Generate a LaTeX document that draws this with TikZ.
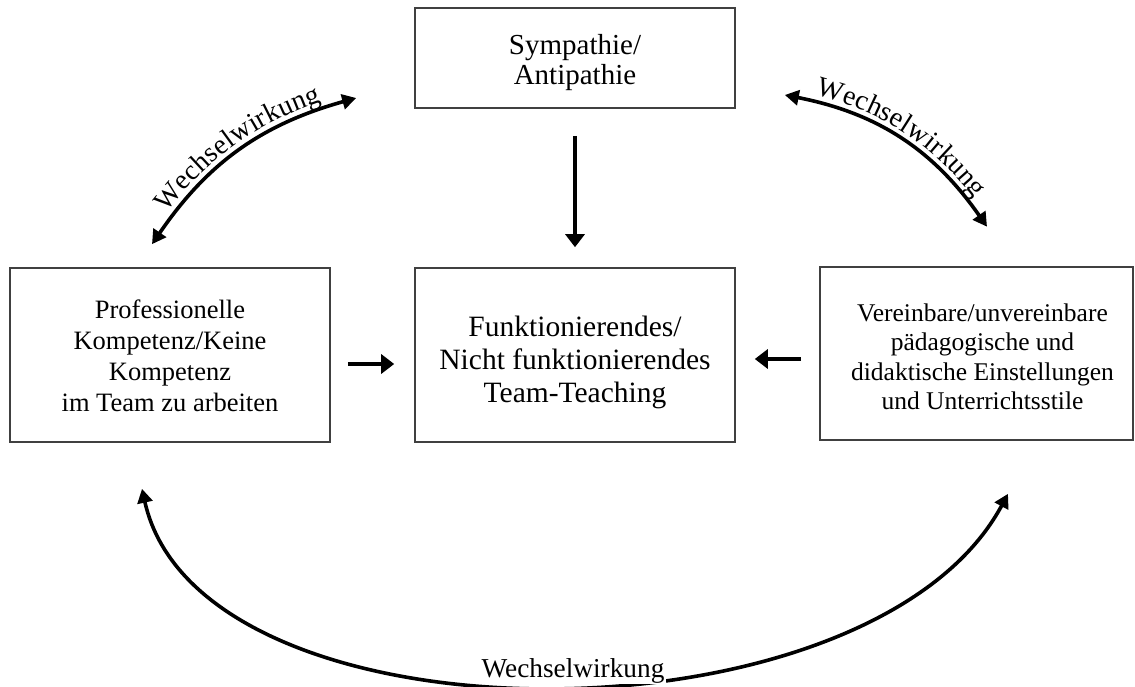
\documentclass[tikz,border=0pt]{standalone}
\usepackage{fontspec}
\setmainfont{Liberation Serif}
\usetikzlibrary{arrows.meta,calc,decorations.text}

\newcommand\topfont{\fontsize{29pt}{30pt}\selectfont}
\newcommand\leftfont{\fontsize{26.5pt}{31pt}\selectfont}
\newcommand\midfont{\fontsize{29.5pt}{33pt}\selectfont}
\newcommand\rightfont{\fontsize{25.5pt}{29.5pt}\selectfont}
\newcommand\arcfont{\fontsize{28pt}{30pt}\selectfont}

\begin{document}
\begin{tikzpicture}[x=1pt,y=-1pt,
  box/.style={draw=black!75, line width=1.6pt, rectangle, inner sep=0pt},
  boxtext/.style={align=center, inner sep=0pt},
  straight/.style={line width=3.6pt, -{Triangle[length=13pt,width=19pt]}},
  curved/.style={line width=3.6pt, {Triangle[length=14pt,width=15pt]}-{Triangle[length=14pt,width=15pt]}},
  arclabel/.style={decorate, decoration={text along path, text={|\arcfont|Wechselwirkung}, text align=center, raise=7pt}}
]
\useasboundingbox[fill=white] (0,0) rectangle (1135,687);

% the four boxes
\node[box, minimum width=320pt, minimum height=100pt] (top) at (575,58) {};
\node[box, minimum width=320pt, minimum height=174pt] (left) at (170,355) {};
\node[box, minimum width=320pt, minimum height=174pt] (mid) at (575,355) {};
\node[box, minimum width=313pt, minimum height=173pt] (right) at (976.5,353.5) {};

% box texts
\node[boxtext, font=\topfont] (toptext) at ([yshift=-5pt]top.center) {Sympathie/\\Antipathie};
\node[boxtext, font=\leftfont] (lefttext) at ([yshift=-1pt]left.center) {Professionelle\\Kompetenz/Keine\\Kompetenz\\im Team zu arbeiten};
\node[boxtext, font=\midfont] (midtext) at ([yshift=-7pt]mid.center) {Funktionierendes/\\Nicht funktionierendes\\Team-Teaching};
\node[boxtext, font=\rightfont] (righttext) at ([xshift=6pt,yshift=-3.5pt]right.center) {Vereinbare/unvereinbare\\pädagogische und\\didaktische Einstellungen\\und Unterrichtsstile};

% straight arrows into the centre box
\draw[straight, shorten <=27pt, shorten >=20pt] (top.south) -- (top.south |- mid.north);
\draw[straight, shorten <=17pt, shorten >=20pt] ([yshift=-9pt]left.east) -- ([yshift=-9pt]mid.west);
\draw[straight, shorten <=18pt, shorten >=19pt] ([yshift=-5.5pt]right.west) -- ([yshift=-4pt]mid.east);

% end points of the curved arrows
\coordinate (tlA) at ($(left.north)+(-18,-23)$);
\coordinate (tlB) at ($(top.west)+(-58,40)$);
\coordinate (trA) at ($(top.east)+(49,37)$);
\coordinate (trB) at ($(right.north)+(10.5,-39.5)$);
\coordinate (bL) at ($(left.south)+(-28,46)$);
\coordinate (bR) at ($(right.south)+(31.5,53)$);

% upper left: left box <-> top box
\draw[curved] (tlA) to[bend left=20] (tlB);
\path[arclabel] (tlA) to[bend left=20] (tlB);

% upper right: top box <-> right box
\draw[curved] (trA) to[bend left=22] (trB);
\path[arclabel] (trA) to[bend left=22] (trB);

% lower arc: left box <-> right box
\draw[curved] (bL) .. controls ($(bL)+(58,262)$) and ($(bR)+(-138,257)$) .. (bR);
\node[font=\fontsize{27.3pt}{30pt}\selectfont, fill=white, inner sep=1.5pt, anchor=base] (wwb) at (573,677) {Wechselwirkung};
\end{tikzpicture}
\end{document}
